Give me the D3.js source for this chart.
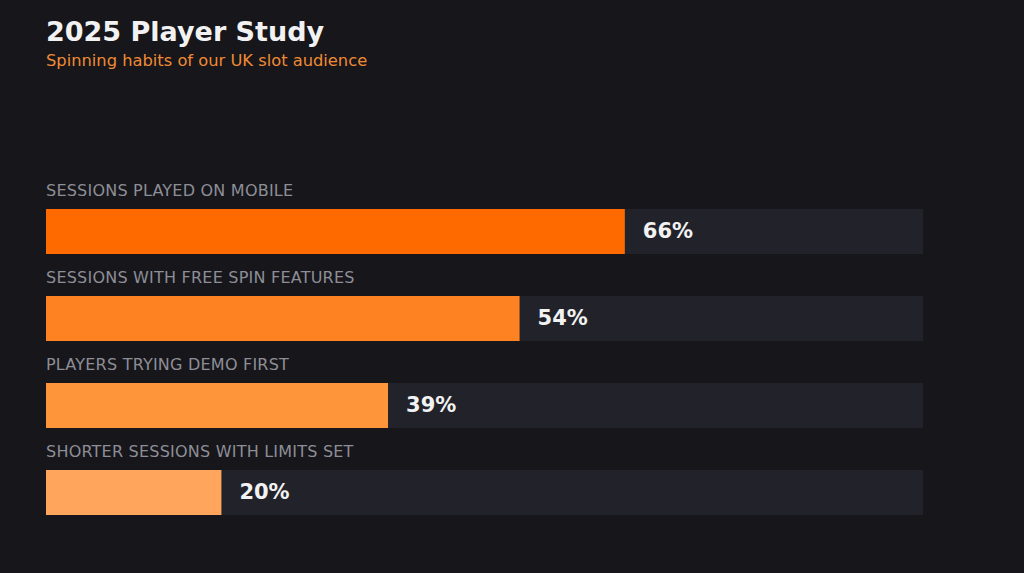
<!DOCTYPE html>
<html>
<head>
<meta charset="utf-8">
<script src="https://cdn.jsdelivr.net/npm/d3@7"></script>
<style>
  html, body { margin: 0; padding: 0; background: #16161b; }
  svg { display: block; font-family: "DejaVu Sans", sans-serif; }
</style>
</head>
<body>
<svg id="chart" width="1024" height="573"></svg>
<script>
// Data
const labels = ["SESSIONS PLAYED ON MOBILE", "SESSIONS WITH FREE SPIN FEATURES", "PLAYERS TRYING DEMO FIRST", "SHORTER SESSIONS WITH LIMITS SET"];
const values = [66, 54, 39, 20];
const colors = ["#ff6a00", "#ff8222", "#ff953a", "#ffa65c"];

const svg = d3.select("#chart"),
  width = +svg.attr("width"),
  height = +svg.attr("height");

svg.append("rect").attr("width", width).attr("height", height).attr("fill", "#16161b");

// title
svg.append("text")
  .attr("x", 46).attr("y", 41)
  .attr("fill", "#f2f2f2")
  .attr("font-size", 27).attr("font-weight", "bold")
  .text("2025 Player Study");
svg.append("text")
  .attr("x", 46).attr("y", 66)
  .attr("fill", "#f08a34")
  .attr("font-size", 16.3)
  .text("Spinning habits of our UK slot audience");

const x = d3.scaleLinear().domain([0, 100]).range([46, 923]);
const y = d3.scaleBand().domain(d3.range(values.length)).range([180, 528]).paddingInner(0).paddingOuter(0);

const barTop = 29, barH = 45;

const g = svg.append("g")
  .selectAll("g")
  .data(values)
  .enter()
  .append("g")
  .attr("transform", (d, i) => `translate(0,${y(i)})`);

g.append("text")
  .attr("x", 46).attr("y", 16)
  .attr("fill", "#8e8e97")
  .attr("font-size", 16)
  .attr("letter-spacing", 0.22)
  .text((d, i) => labels[i]);

g.append("rect")
  .attr("x", x(0)).attr("y", barTop)
  .attr("width", x(100) - x(0)).attr("height", barH)
  .attr("fill", "#22232a");

g.append("rect")
  .attr("x", x(0)).attr("y", barTop)
  .attr("width", d => x(d) - x(0)).attr("height", barH)
  .attr("fill", (d, i) => colors[i]);

g.append("text")
  .attr("x", d => x(d) + 18).attr("y", barTop + barH / 2)
  .attr("dy", "0.3em")
  .attr("fill", "#f2f2f2")
  .attr("font-size", 21).attr("font-weight", "bold")
  .text(d => d + "%");
</script>
</body>
</html>
